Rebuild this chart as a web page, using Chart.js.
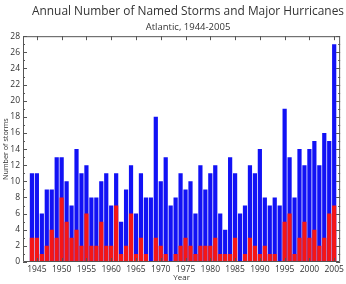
<!DOCTYPE html>
<html>
<head>
<meta charset="utf-8">
<script src="https://cdn.jsdelivr.net/npm/chart.js@4.4.1/dist/chart.umd.min.js"></script>
<style>
  html, body { margin: 0; padding: 0; background: #fff; }
  #wrap { width: 346px; height: 284px; }
</style>
</head>
<body>
<div id="wrap"><canvas id="stormChart"></canvas></div>
<script>
const years = [1944, 1945, 1946, 1947, 1948, 1949, 1950, 1951, 1952, 1953, 1954, 1955, 1956, 1957, 1958, 1959, 1960, 1961,
  1962, 1963, 1964, 1965, 1966, 1967, 1968, 1969, 1970, 1971, 1972, 1973, 1974, 1975, 1976, 1977, 1978, 1979, 1980, 1981, 1982, 1983,
  1984, 1985, 1986, 1987, 1988, 1989, 1990, 1991, 1992, 1993, 1994, 1995, 1996, 1997, 1998, 1999, 2000, 2001, 2002, 2003, 2004, 2005];
const namedStorms = [11, 11, 6, 9, 9, 13, 13, 10, 7, 14, 11, 12, 8, 8, 10, 11, 7, 11,
  5, 9, 12, 6, 11, 8, 8, 18, 10, 13, 7, 8, 11, 9, 10, 6, 12, 9, 11, 12, 6, 4,
  13, 11, 6, 7, 12, 11, 14, 8, 7, 8, 7, 19, 13, 8, 14, 12, 14, 15, 12, 16, 15, 27];
const majorHurricanes = [3, 3, 1, 2, 4, 3, 8, 5, 3, 4, 2, 6, 2, 2, 5, 2, 2, 7,
  1, 2, 6, 1, 3, 1, 0, 3, 2, 1, 0, 1, 2, 3, 2, 1, 2, 2, 2, 3, 1, 1,
  1, 3, 0, 1, 3, 2, 1, 2, 1, 1, 0, 5, 6, 1, 3, 5, 3, 4, 2, 3, 6, 7];
const yearTicks = [1945, 1950, 1955, 1960, 1965, 1970, 1975, 1980, 1985, 1990, 1995, 2000, 2005];

const FONT = 'Open Sans, Noto Sans, sans-serif';

// frame plus inward ticks on all four sides
const framePlugin = {
  id: 'frame',
  afterLayout(chart) {
    // centre the title and subtitle a bit right of the canvas middle, like the original
    chart.boxes.forEach(b => {
      if (b.position === 'top' && b.options && b.options.text) {
        b.left = 30;
        b.right = 346;
      }
    });
  },
  afterDatasetsDraw(chart) {
    const { ctx, chartArea: a, scales: { x, y } } = chart;
    ctx.save();
    ctx.strokeStyle = '#555';
    ctx.lineWidth = 1;
    ctx.beginPath();
    ctx.rect(a.left + 0.5, a.top + 0.5, a.right - a.left - 1, a.bottom - a.top - 1);
    for (let v = 0; v <= 28; v++) {
      const py = Math.round(y.getPixelForValue(v)) + 0.5;
      const len = v % 2 === 0 ? 4 : 2;
      ctx.moveTo(a.left, py); ctx.lineTo(a.left + len, py);
      ctx.moveTo(a.right, py); ctx.lineTo(a.right - len, py);
    }
    yearTicks.forEach(t => {
      const px = Math.round(x.getPixelForValue(t)) + 0.5;
      ctx.moveTo(px, a.top); ctx.lineTo(px, a.top + 4);
      ctx.moveTo(px, a.bottom); ctx.lineTo(px, a.bottom - 4);
    });
    ctx.stroke();
    ctx.restore();
  }
};

const ctx = document.getElementById('stormChart').getContext('2d');
new Chart(ctx, {
  type: 'bar',
  data: {
    datasets: [
      {
        label: 'Major hurricanes',
        data: years.map((yr, i) => ({ x: yr, y: majorHurricanes[i] })),
        backgroundColor: '#f51616',
        grouped: false,
        barPercentage: 0.85,
        categoryPercentage: 1
      },
      {
        label: 'Named storms',
        data: years.map((yr, i) => ({ x: yr, y: namedStorms[i] })),
        backgroundColor: '#1212f5',
        grouped: false,
        barPercentage: 0.85,
        categoryPercentage: 1
      }
    ]
  },
  options: {
    responsive: true,
    maintainAspectRatio: false,
    animation: false,
    layout: { padding: { left: 0, right: 5, top: 0, bottom: 0 } },
    scales: {
      x: {
        type: 'linear',
        min: 1942.2,
        max: 2006.2,
        offset: false,
        afterBuildTicks(scale) {
          scale.ticks = yearTicks.map(v => ({ value: v }));
        },
        afterFit(scale) { scale.height = 22; },
        grid: { display: false, drawTicks: false },
        border: { display: false },
        ticks: {
          autoSkip: false,
          maxRotation: 0,
          padding: 2,
          color: '#333',
          font: { family: FONT, size: 8.5 },
          callback: v => String(v)
        },
        title: {
          display: true,
          text: 'Year',
          color: '#333',
          padding: { top: 0, bottom: 1 },
          font: { family: FONT, size: 8 }
        }
      },
      y: {
        min: 0,
        max: 28,
        afterFit(scale) { scale.width = 23; },
        grid: { display: false, drawTicks: false },
        border: { display: false },
        ticks: {
          stepSize: 1,
          autoSkip: false,
          padding: 3,
          color: '#333',
          font: { family: FONT, size: 8.5 },
          callback: v => (v % 2 === 0 ? String(v) : '')
        },
        title: {
          display: true,
          text: 'Number of storms',
          color: '#333',
          padding: { top: 2, bottom: 0 },
          font: { family: FONT, size: 7.2 }
        }
      }
    },
    plugins: {
      legend: { display: false },
      tooltip: { enabled: false },
      title: {
        display: true,
        text: 'Annual Number of Named Storms and Major Hurricanes',
        color: '#333',
        font: { family: FONT, size: 11.9, weight: 'normal' },
        padding: { top: 4, bottom: 2 }
      },
      subtitle: {
        display: true,
        text: 'Atlantic, 1944-2005',
        color: '#333',
        font: { family: FONT, size: 9.5 },
        padding: { top: 1.5, bottom: 3 }
      }
    }
  },
  plugins: [framePlugin]
});
</script>
</body>
</html>
